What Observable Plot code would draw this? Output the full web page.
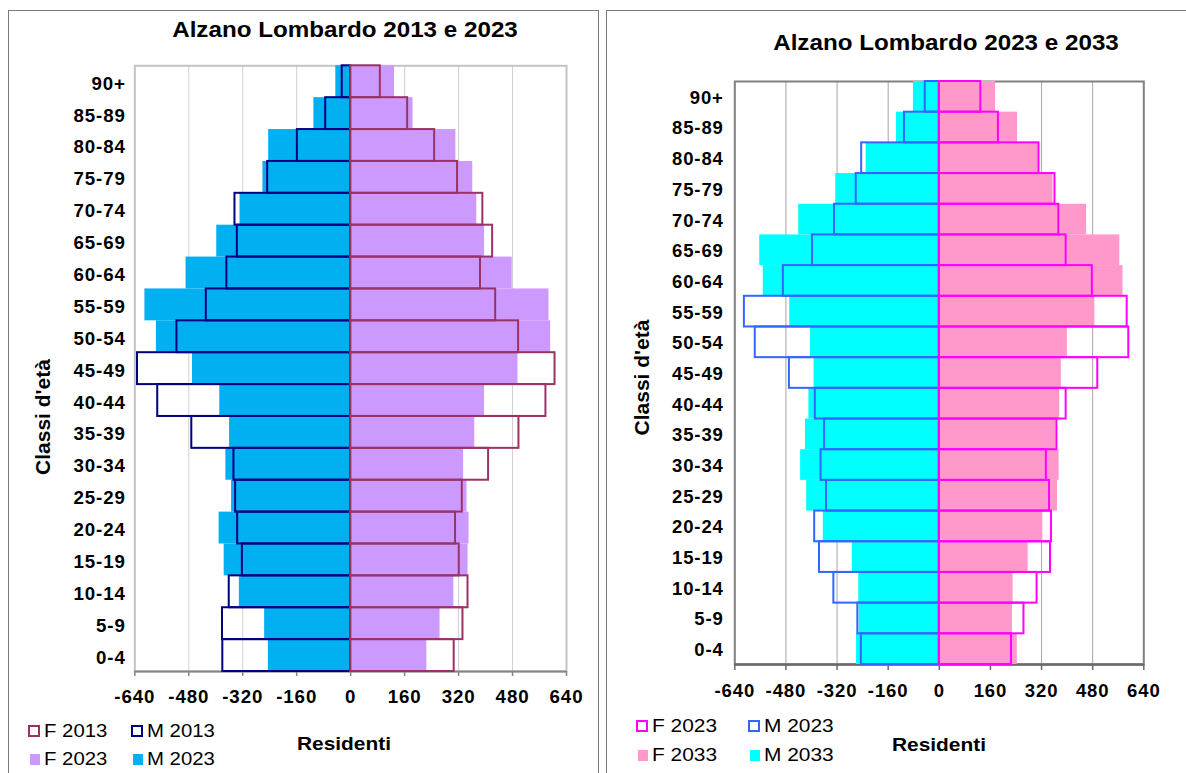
<!DOCTYPE html>
<html><head><meta charset="utf-8">
<script src="https://cdn.jsdelivr.net/npm/d3@7"></script>
<script src="https://cdn.jsdelivr.net/npm/@observablehq/plot@0.6"></script>
<style>
html,body{margin:0;padding:0;background:#fff;}
body{width:1186px;height:773px;position:relative;overflow:hidden;font-family:"Liberation Sans",Arial,sans-serif;}
.abs{position:absolute;white-space:nowrap;line-height:1;color:#000;}
svg{position:absolute;top:0;}
</style></head><body>
<script>
// ---- data (age classes from youngest to oldest) ----
const ages = ["0-4","5-9","10-14","15-19","20-24","25-29","30-34","35-39","40-44","45-49","50-54","55-59","60-64","65-69","70-74","75-79","80-84","85-89","90+"];
const m2013 = [379,380,360,321,335,341,346,471,572,632,515,428,367,336,343,246,158,74,25];
const f2013 = [307,333,348,322,311,331,409,499,579,606,498,430,385,421,392,317,249,169,88];
const m2023 = [244,255,330,375,390,353,370,359,388,469,576,610,488,397,328,260,243,109,44];
const f2023 = [226,265,306,348,351,345,335,368,397,496,593,588,479,397,374,362,312,185,130];
const m2033 = [259,251,252,272,363,415,434,419,408,392,403,468,551,562,440,324,229,134,81];
const f2033 = [244,229,231,278,324,370,375,365,377,382,401,487,575,565,461,356,310,245,176];
const xTicks = [-640,-480,-320,-160,0,160,320,480,640];
const titles = ["Alzano Lombardo 2013 e 2023", "Alzano Lombardo 2023 e 2033"];
const yLabel = "Classi d'età";
const xLabel = "Residenti";
const legendLeft = ["F 2013","M 2013","F 2023","M 2023"];
const legendRight = ["F 2023","M 2023","F 2033","M 2033"];

const K = 1.1; // horizontal stretch of the reference's text
const H = 773;

function addDiv(css){const d=document.createElement("div");d.className="abs";Object.assign(d.style,css);document.body.appendChild(d);return d;}
function addText(str,{x,baseline,size,weight="normal",anchor="start"}){
  const d=addDiv({left:x+"px",top:(baseline-0.8465*size)+"px",fontSize:size+"px",fontWeight:weight,lineHeight:size+"px"});
  d.textContent=str;
  if(anchor==="middle"){d.style.transform=`translateX(-50%) scaleX(${K})`;d.style.transformOrigin="50% 50%";}
  else {d.style.transform=`scaleX(${K})`;d.style.transformOrigin="0 50%";}
  return d;
}
function addVText(str,{bx,cy,size}){
  const d=addDiv({left:"0px",top:"0px",fontSize:size+"px",fontWeight:"bold",lineHeight:size+"px",transformOrigin:"0 0"});
  d.textContent=str;
  d.style.transform=`translate(${bx}px,${cy}px) rotate(-90deg) translate(-50%,${-0.8465*size}px)`;
}

// panel borders
addDiv({left:"7.5px",top:"10px",width:"591px",height:"800px",border:"1.4px solid #7a7a7a",boxSizing:"border-box"});
addDiv({left:"606px",top:"10px",width:"700px",height:"800px",border:"1.4px solid #7a7a7a",boxSizing:"border-box"});

function pyramid(cfg){
  const rows = ages.map((age,i)=>({age, mFill:cfg.mFill[i], fFill:cfg.fFill[i], mLine:cfg.mLine[i], fLine:cfg.fLine[i]}));
  const mb = H - cfg.plotBottom;
  const rowH = (cfg.plotBottom - cfg.mt)/ages.length;
  const svg = Plot.plot({
    width: cfg.width, height: H,
    marginLeft: cfg.ml, marginRight: cfg.mr, marginTop: cfg.mt, marginBottom: mb,
    x: {domain:[-640,640]},
    y: {type:"band", domain: ages.slice().reverse(), padding:0, round:false},
    style: {fontFamily:'"Liberation Sans", Arial, sans-serif', background:"transparent", overflow:"visible", color:"#000", letterSpacing: cfg.ls + "px"},
    marks: [
      Plot.ruleX(xTicks.filter(t=>Math.abs(t)<640), {stroke: cfg.grid, strokeWidth: 1}),
      Plot.frame({stroke: cfg.frame, strokeWidth: 2}),
      Plot.ruleY([ages[0]], {dy: rowH/2, stroke: cfg.axis, strokeWidth: cfg.axisW}),
      Plot.axisX(xTicks, {tickSize: cfg.tickSize, tickPadding: cfg.xPad, tickFormat: d=>String(d), fontSize: cfg.font, fontWeight:"bold", stroke: cfg.axis, strokeWidth: 1.5, fill:"#000", label:null}),
      Plot.axisY({tickSize:0, tickPadding: cfg.yPad, fontSize: cfg.font, fontWeight:"bold", fill:"#000", label:null, dy: cfg.yDy}),
      Plot.barX(rows, {y:"age", x1:0, x2:d=>-d.mFill, fill: cfg.mFillC}),
      Plot.barX(rows, {y:"age", x1:0, x2:d=>d.fFill, fill: cfg.fFillC}),
      Plot.barX(rows, {y:"age", x1:0, x2:d=>-d.mLine, fill:"none", stroke: cfg.mLineC, strokeWidth: 2}),
      Plot.barX(rows, {y:"age", x1:0, x2:d=>d.fLine, fill:"none", stroke: cfg.fLineC, strokeWidth: 2})
    ]
  });
  svg.style.left = cfg.svgX + "px";
  document.body.appendChild(svg);
}

pyramid({svgX:0, width:600, ml:134.3, mr:34, mt:65.3, plotBottom:671,
  mFill:m2023, fFill:f2023, mLine:m2013, fLine:f2013,
  mFillC:"#00b0f0", fFillC:"#cc99ff", mLineC:"#000080", fLineC:"#993366",
  frame:"#c4c4c4", grid:"#d0d0d0", axis:"#858585", axisW:2, tickSize:5, xPad:13, yPad:9, yDy:2, font:18.7, ls:0.9});
pyramid({svgX:600, width:586, ml:134.3, mr:42.7, mt:81, plotBottom:664,
  mFill:m2033, fFill:f2033, mLine:m2023, fLine:f2023,
  mFillC:"#00ffff", fFillC:"#ff99cc", mLineC:"#3366ff", fLineC:"#ff00ff",
  frame:"#808080", grid:"#a6a6a6", axis:"#6a6a6a", axisW:2.5, tickSize:6, xPad:13, yPad:11, yDy:1, font:18.5, ls:0.9});

// titles and axis labels
addText(titles[0],{x:344.8, baseline:37.3, size:22, weight:"bold", anchor:"middle"});
addText(titles[1],{x:946.2, baseline:50.7, size:22, weight:"bold", anchor:"middle"});
addVText(yLabel,{bx:50, cy:417, size:21});
addVText(yLabel,{bx:648.6, cy:377.5, size:21});
addText(xLabel,{x:344.2, baseline:750, size:19, weight:"bold", anchor:"middle"});
addText(xLabel,{x:939.2, baseline:750.7, size:19, weight:"bold", anchor:"middle"});

// legends
function legend(labels, colors, kinds, textX, baselines, size){
  labels.forEach((lab,i)=>{
    const col=i%2, row=Math.floor(i/2);
    const tx=textX[col], bl=baselines[row];
    if(kinds[i]==="outline"){
      addDiv({left:(tx-16)+"px", top:(bl-12)+"px", width:"12px", height:"12px", border:`2px solid ${colors[i]}`, background:"#fff", boxSizing:"border-box"});
    } else {
      addDiv({left:(tx-14)+"px", top:(bl-11.5)+"px", width:"10px", height:"11px", background:colors[i]});
    }
    addText(lab,{x:tx, baseline:bl, size:size});
  });
}
legend(legendLeft, ["#993366","#000080","#cc99ff","#00b0f0"], ["outline","outline","fill","fill"], [44.3,146.7], [737.3,765.3], 18.5);
legend(legendRight, ["#ff00ff","#3366ff","#ff99cc","#00ffff"], ["outline","outline","fill","fill"], [651.7,764.3], [731.7,761], 19);
</script>
</body></html>
